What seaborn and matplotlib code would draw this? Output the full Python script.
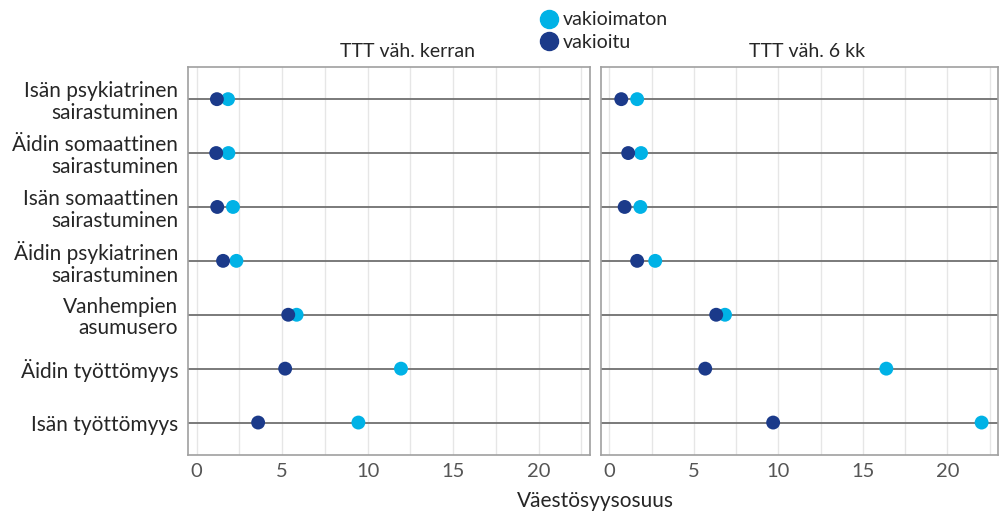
import numpy as np
import pandas as pd
import seaborn as sns
import matplotlib.pyplot as plt
from matplotlib.ticker import MultipleLocator
from matplotlib.lines import Line2D

# Tekijät (ylhäältä alas)
tekijat = ["Isän psykiatrinen\nsairastuminen",
           "Äidin somaattinen\nsairastuminen",
           "Isän somaattinen\nsairastuminen",
           "Äidin psykiatrinen\nsairastuminen",
           "Vanhempien\nasumusero",
           "Äidin työttömyys",
           "Isän työttömyys"]

# TTT väh. kerran
kerran_vakioimaton = [1.84, 1.86, 2.13, 2.33, 5.85, 11.95, 9.46]
kerran_vakioitu = [1.19, 1.15, 1.21, 1.55, 5.36, 5.18, 3.60]

# TTT väh. 6 kk
kk6_vakioimaton = [1.64, 1.87, 1.83, 2.71, 6.84, 16.39, 22.03]
kk6_vakioitu = [0.70, 1.11, 0.90, 1.64, 6.32, 5.67, 9.69]

paneelit = ["TTT väh. kerran", "TTT väh. 6 kk"]
vaaleansininen = "#00b2e6"
tummansininen = "#1b3a8a"

sns.set_theme(style="white")
plt.rcParams['font.family'] = ['Lato', 'DejaVu Sans']

rivit = []
for paneeli, vakioimaton, vakioitu in [(paneelit[0], kerran_vakioimaton, kerran_vakioitu),
                                       (paneelit[1], kk6_vakioimaton, kk6_vakioitu)]:
    for i, t in enumerate(tekijat):
        rivit.append({"paneeli": paneeli, "tekija": t, "tyyppi": "vakioimaton", "arvo": vakioimaton[i]})
        rivit.append({"paneeli": paneeli, "tekija": t, "tyyppi": "vakioitu", "arvo": vakioitu[i]})
df = pd.DataFrame(rivit)

fig = plt.figure(figsize=(10, 5.14), dpi=100)
ax1 = fig.add_axes([0.188, 0.115, 0.402, 0.755])
ax2 = fig.add_axes([0.601, 0.115, 0.397, 0.755])

for ax, paneeli, tx in [(ax1, paneelit[0], 0.545), (ax2, paneelit[1], 0.52)]:
    d = df[df["paneeli"] == paneeli]
    sns.stripplot(data=d, x="arvo", y="tekija", hue="tyyppi", order=tekijat,
                  hue_order=["vakioimaton", "vakioitu"],
                  palette={"vakioimaton": vaaleansininen, "vakioitu": tummansininen},
                  jitter=False, size=10, linewidth=0, ax=ax, legend=False, zorder=3)
    ax.set_xlim(-0.5, 23)
    ax.set_ylim(6.6, -0.6)
    ax.xaxis.set_major_locator(MultipleLocator(5))
    ax.xaxis.set_minor_locator(MultipleLocator(2.5))
    ax.grid(axis="x", which="both", color="#e6e6e6", lw=1, zorder=0)
    ax.grid(axis="y", color="#707070", lw=1.3, zorder=1)
    ax.set_axisbelow(True)
    for s in ax.spines.values():
        s.set_color("#a0a0a0")
        s.set_linewidth(1.2)
    ax.tick_params(axis="both", length=0)
    ax.tick_params(axis="x", labelcolor="#555555", labelsize=14.5, pad=6)
    ax.tick_params(axis="y", labelsize=15, pad=7)
    for lbl in ax.get_yticklabels():
        lbl.set_linespacing(1.1)
    ax.set_xlabel("")
    ax.set_ylabel("")
    ax.set_title(paneeli, fontsize=14, x=tx, pad=7)

ax2.set_yticklabels([])

fig.text(0.595, 0.025, "Väestösyysosuus", ha="center", va="center", fontsize=15)

kahvat = [Line2D([], [], marker="o", ls="", ms=13, color=vaaleansininen),
          Line2D([], [], marker="o", ls="", ms=13, color=tummansininen)]
fig.legend(kahvat, ["vakioimaton", "vakioitu"], loc="upper left",
           bbox_to_anchor=(0.52, 1.012), frameon=False, fontsize=14,
           handletextpad=0.1, labelspacing=0.3, handlelength=1.2)

fig.savefig("out.png", dpi=100)
